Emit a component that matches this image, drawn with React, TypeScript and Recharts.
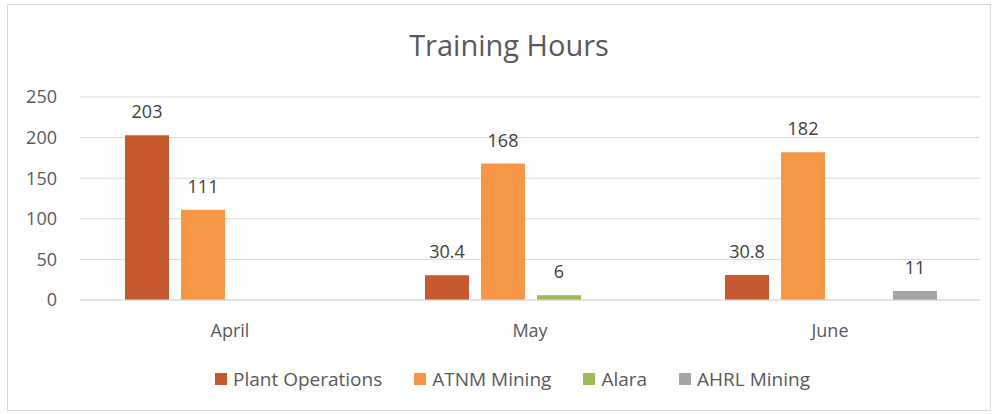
import { BarChart, Bar, XAxis, YAxis, CartesianGrid, LabelList } from 'recharts';

const months = ['April', 'May', 'June'];
const plantOperations = [203, 30.4, 30.8];
const atnmMining = [111, 168, 182];
const alara = [null, 6, null];
const ahrlMining = [null, null, 11];
const yTicks = [0, 50, 100, 150, 200, 250];

const series = [
  { key: 'plant', name: 'Plant Operations', color: '#C65A2E', values: plantOperations },
  { key: 'atnm', name: 'ATNM Mining', color: '#F79646', values: atnmMining },
  { key: 'alara', name: 'Alara', color: '#9BBB59', values: alara },
  { key: 'ahrl', name: 'AHRL Mining', color: '#A5A5A5', values: ahrlMining },
];

const data = months.map((month, i) => {
  const row: Record<string, string | number | null> = { month };
  series.forEach(s => {
    row[s.key] = s.values[i];
  });
  return row;
});

const font = '"Open Sans", sans-serif';

export default function App() {
  return (
    <div style={{ position: 'absolute', left: 0, top: 0, width: 997, height: 414, background: '#fff', fontFamily: font }}>
      {/* chart frame */}
      <div style={{ position: 'absolute', left: 7, top: 4, width: 982, height: 405, border: '1px solid #d9d9d9' }} />

      <div style={{ position: 'absolute', left: 20, top: 25, width: 978, textAlign: 'center', fontSize: 29, color: '#595959' }}>
        Training Hours
      </div>

      <div style={{ position: 'absolute', left: 0, top: 0 }}>
        <BarChart
          width={997}
          height={414}
          data={data}
          margin={{ top: 97, right: 17, left: 20, bottom: 84 }}
          barCategoryGap="15%"
          barGap={12}
        >
          <CartesianGrid vertical={false} stroke="#d9d9d9" />
          <XAxis
            dataKey="month"
            height={30}
            axisLine={{ stroke: '#d9d9d9' }}
            tickLine={false}
            tickMargin={18}
            tick={{ fill: '#595959', fontSize: 18, fontFamily: font }}
          />
          <YAxis
            width={60}
            domain={[0, 250]}
            ticks={yTicks}
            axisLine={false}
            tickLine={false}
            tickMargin={17}
            tick={{ fill: '#595959', fontSize: 18, fontFamily: font }}
          />
          {series.map(s => (
            <Bar key={s.key} dataKey={s.key} name={s.name} fill={s.color} isAnimationActive={false}>
              <LabelList dataKey={s.key} position="top" offset={17} fill="#404040" fontSize={18} fontFamily={font} />
            </Bar>
          ))}
        </BarChart>
      </div>

      {/* legend */}
      <div
        style={{
          position: 'absolute',
          left: 14,
          top: 366,
          width: 997,
          display: 'flex',
          justifyContent: 'center',
          gap: 32,
          fontSize: 19,
          color: '#595959',
        }}
      >
        {series.map(s => (
          <div key={s.key} style={{ display: 'flex', alignItems: 'center', gap: 6 }}>
            <span style={{ width: 12, height: 12, background: s.color, display: 'inline-block' }} />
            <span>{s.name}</span>
          </div>
        ))}
      </div>
    </div>
  );
}
